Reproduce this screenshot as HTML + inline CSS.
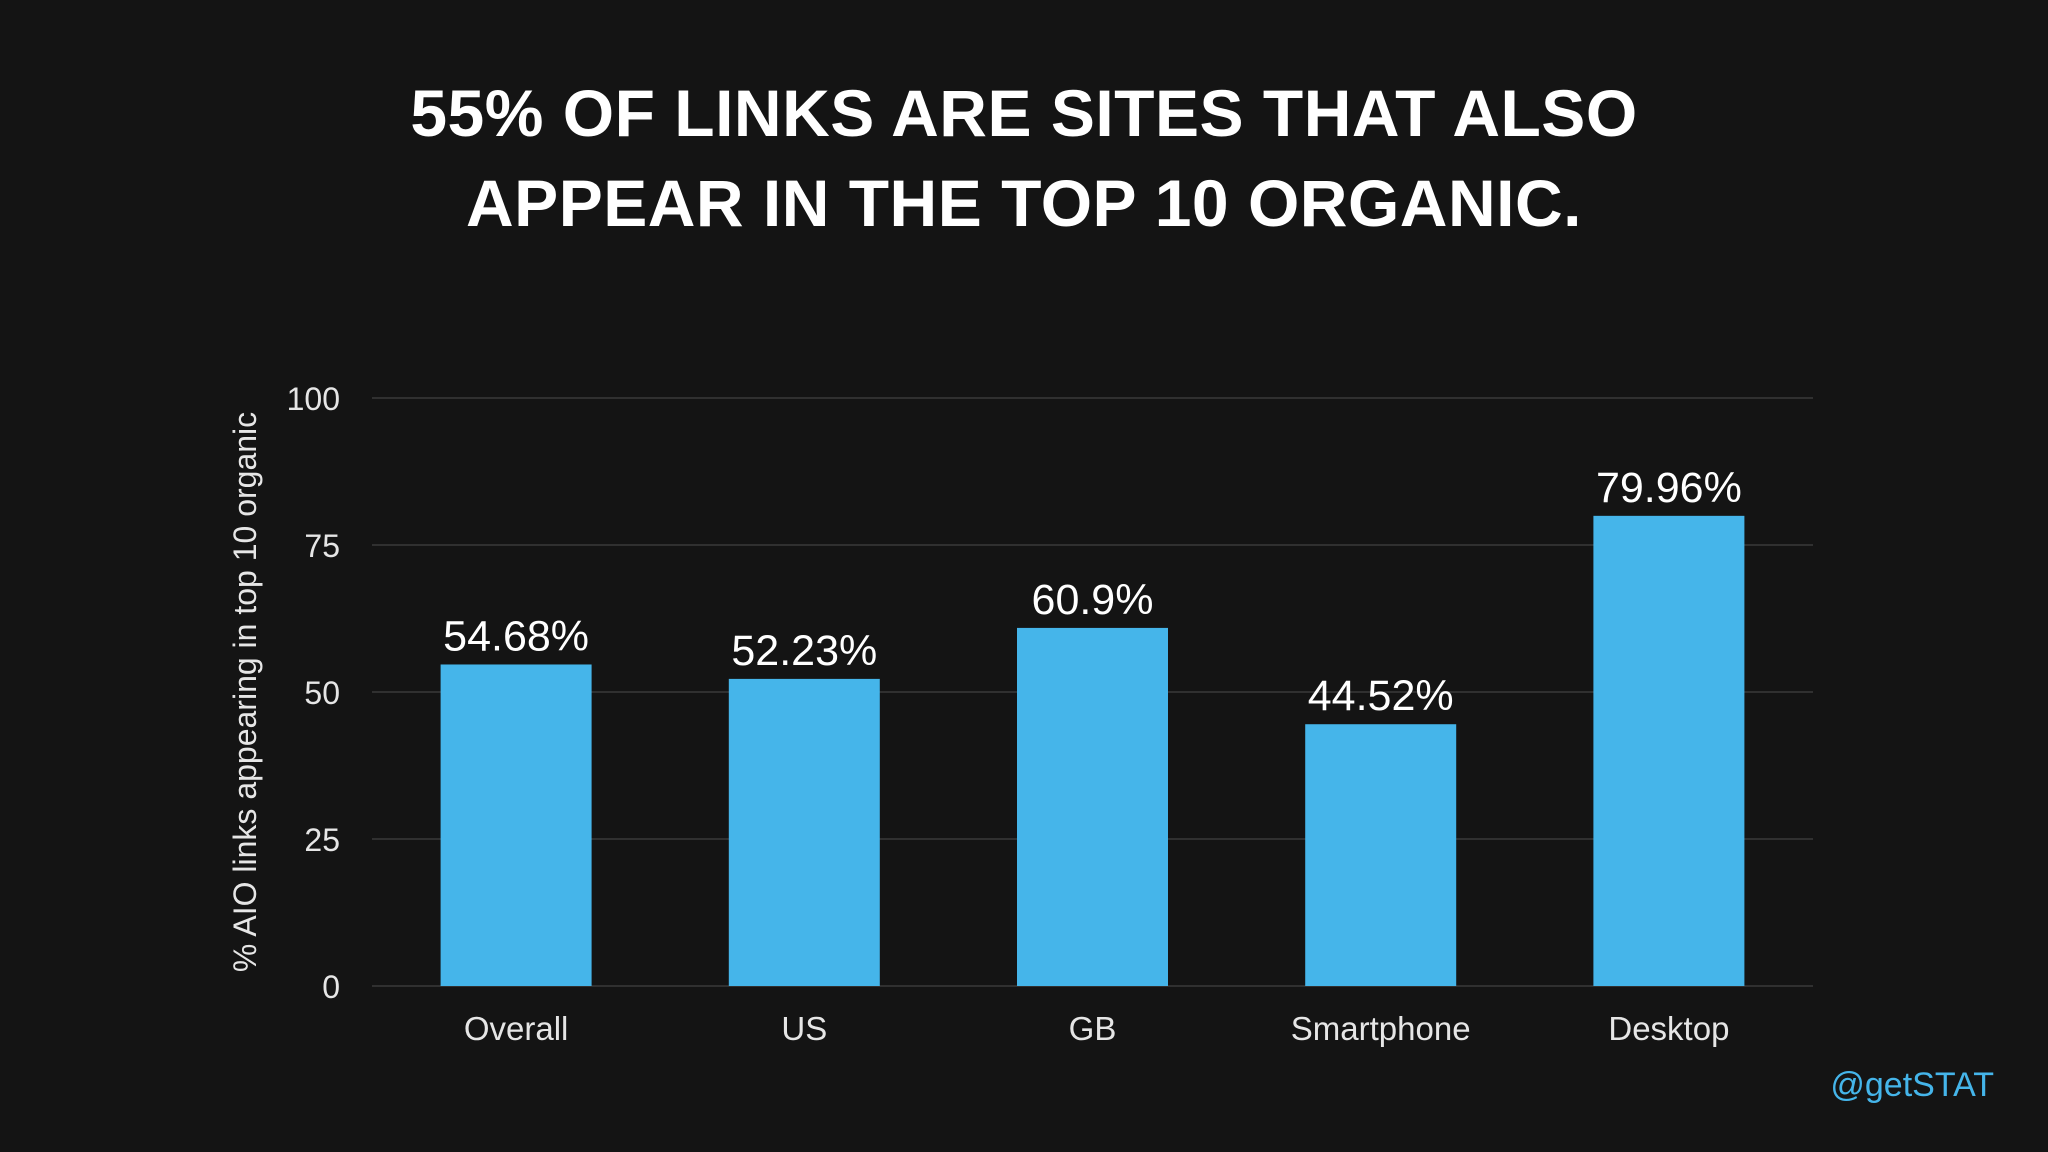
<!DOCTYPE html>
<html><head><meta charset="utf-8"><style>
html,body{margin:0;padding:0;background:#141414;}
body{width:2048px;height:1152px;overflow:hidden;position:relative;font-family:"Liberation Sans",sans-serif;}
.title{position:absolute;left:0;width:2048px;top:68px;text-align:center;color:#fff;font-weight:bold;font-size:66px;line-height:90px;letter-spacing:0.5px;}
.handle{position:absolute;right:54px;top:1066px;color:#45b5ea;font-size:34px;}
</style></head><body>
<div class="title">55% OF LINKS ARE SITES THAT ALSO<br>APPEAR IN THE TOP 10 ORGANIC.</div>
<svg id="chart" width="2048" height="1152" style="position:absolute;left:0;top:0"></svg>
<div class="handle">@getSTAT</div>
<script>
const categories=["Overall","US","GB","Smartphone","Desktop"];
const values=[54.68,52.23,60.9,44.52,79.96];
const valueLabels=["54.68%","52.23%","60.9%","44.52%","79.96%"];
const yTicks=[0,25,50,75,100];
const svg=document.getElementById('chart');
const NS='http://www.w3.org/2000/svg';
const L=372,R=1813,T=398,B=986;
const y=v=>B-(v/100)*(B-T);
const step=(R-L)/categories.length;
const x=i=>L+step*(i+0.5);
function mk(t,a){const e=document.createElementNS(NS,t);for(const k in a)e.setAttribute(k,a[k]);svg.appendChild(e);return e;}
yTicks.forEach(v=>{
  const g=mk('line',{x1:L,x2:R,y1:y(v),y2:y(v),stroke:'#3a3a3a','stroke-width':1.5});
  
  
  const t=mk('text',{x:340,y:y(v)+12,'text-anchor':'end',fill:'#e6e6e6','font-size':32,'font-family':'Liberation Sans, sans-serif'});
  t.textContent=v;
  
  
});
categories.forEach((c,i)=>{
  const bw=151;
  const r=mk('rect',{x:x(i)-bw/2,y:y(values[i]),width:bw,height:B-y(values[i]),fill:'#45b5ea'});
  
  
  const vl=mk('text',{x:x(i),y:y(values[i])-14,'text-anchor':'middle',fill:'#fff','font-size':43,'font-family':'Liberation Sans, sans-serif'});
  vl.textContent=valueLabels[i];
  
  
  const cl=mk('text',{x:x(i),y:1040,'text-anchor':'middle',fill:'#e6e6e6','font-size':33,'font-family':'Liberation Sans, sans-serif'});
  cl.textContent=c;
  
  
});
const yt=mk('text',{x:0,y:0,transform:'translate(256,692) rotate(-90)','text-anchor':'middle',fill:'#e6e6e6','font-size':32,'font-family':'Liberation Sans, sans-serif'});
yt.textContent='% AIO links appearing in top 10 organic';


</script>
</body></html>
